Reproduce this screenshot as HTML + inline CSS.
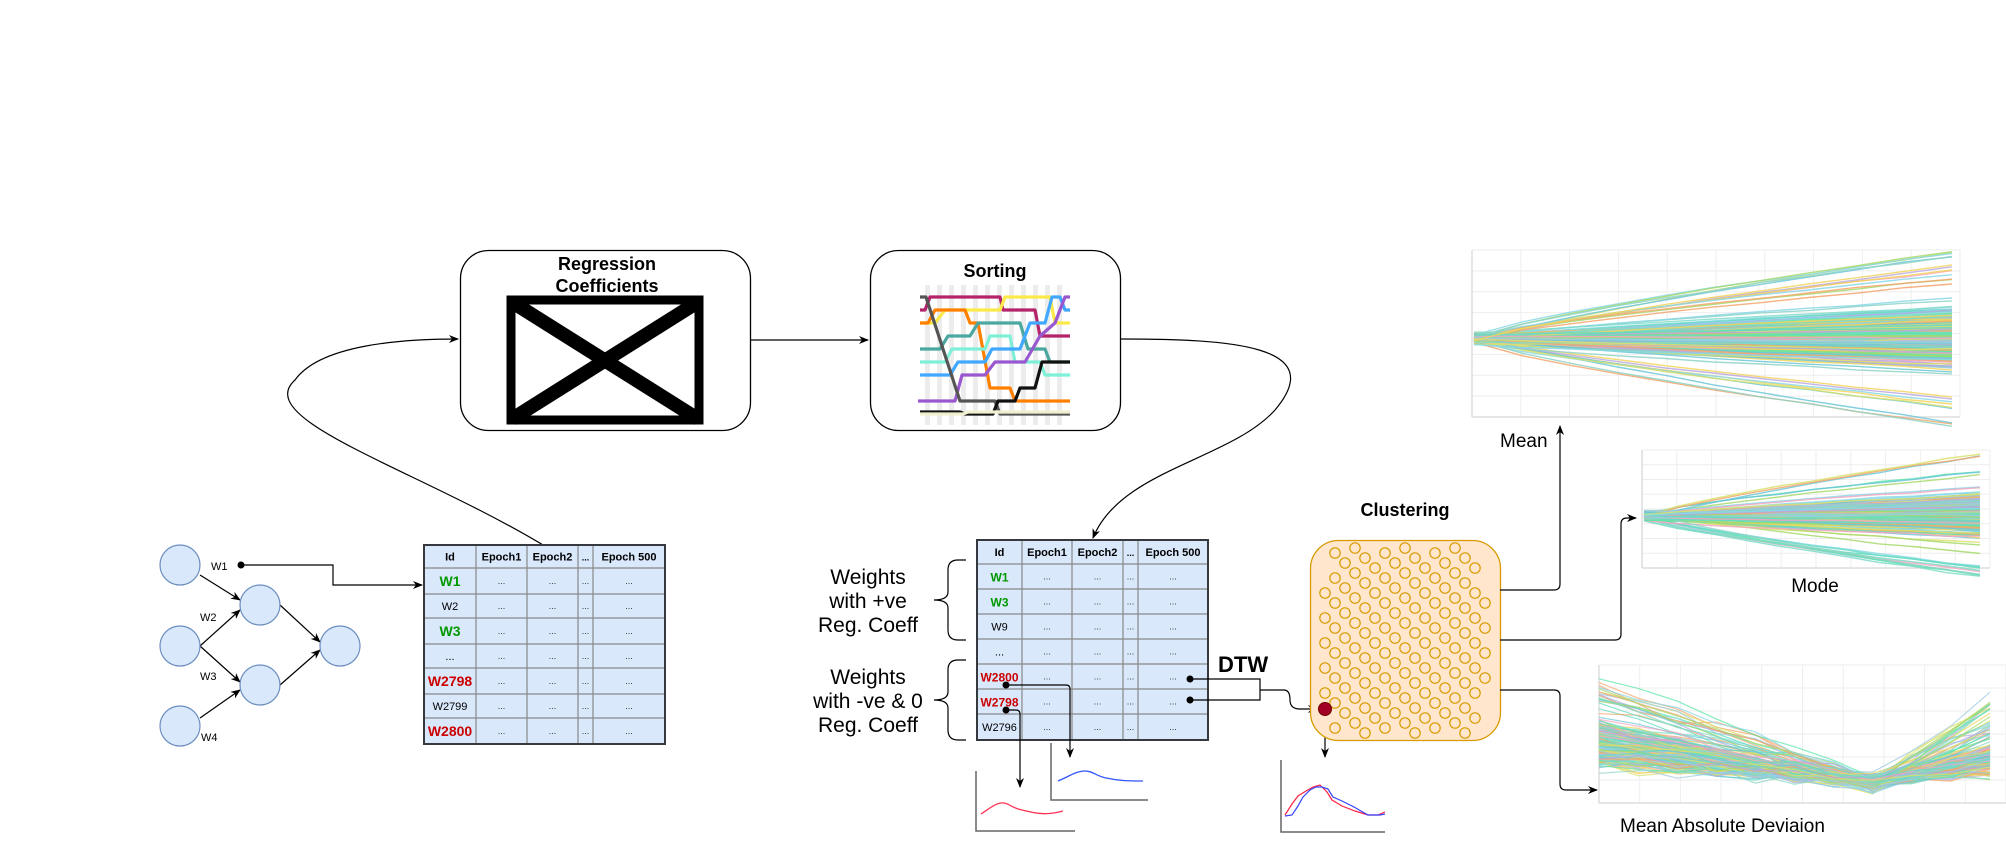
<!DOCTYPE html>
<html><head><meta charset="utf-8"><style>
html,body{margin:0;padding:0;background:#fff;}
svg{display:block;font-family:"Liberation Sans",Arial,sans-serif;}
</style></head><body>
<svg id="s" width="2006" height="841" viewBox="0 0 2006 841" xmlns="http://www.w3.org/2000/svg">
<defs>
<marker id="ar" markerWidth="10" markerHeight="10" refX="9" refY="5" orient="auto" markerUnits="userSpaceOnUse"><path d="M0,1 L10,5 L0,9 L3,5 Z" fill="#000"/></marker>
</defs>
<rect width="2006" height="841" fill="#fff"/>

<!-- Regression box -->
<rect x="460.5" y="250.5" width="290" height="180" rx="28" fill="#fff" stroke="#000" stroke-width="1.3"/>
<text x="607" y="270" font-size="18" font-weight="bold" text-anchor="middle">Regression</text>
<text x="607" y="292" font-size="18" font-weight="bold" text-anchor="middle">Coefficients</text>
<rect x="511" y="300" width="188" height="120" fill="none" stroke="#000" stroke-width="9"/>
<line x1="512" y1="302" x2="698" y2="419" stroke="#000" stroke-width="14"/>
<line x1="698" y1="302" x2="512" y2="419" stroke="#000" stroke-width="14"/>

<!-- Sorting box -->
<rect x="870.5" y="250.5" width="250" height="180" rx="28" fill="#fff" stroke="#000" stroke-width="1.3"/>
<text x="995" y="277" font-size="18" font-weight="bold" text-anchor="middle">Sorting</text>
<g id="sortg"></g>

<!-- connectors top -->
<line x1="751" y1="340" x2="868" y2="340" stroke="#000" stroke-width="1.2" marker-end="url(#ar)"/>
<path d="M548,548 C420,470 250,420 295,380 C320,345 400,339 458,339" fill="none" stroke="#000" stroke-width="1.2" marker-end="url(#ar)"/>
<path d="M1121,339 C1230,339 1330,345 1275,410 C1230,460 1120,470 1093,538" fill="none" stroke="#000" stroke-width="1.2" marker-end="url(#ar)"/>

<!-- Network -->
<g stroke="#000" stroke-width="1.2">
<line x1="200" y1="575" x2="240" y2="600" marker-end="url(#ar)"/>
<line x1="200" y1="646" x2="240" y2="610" marker-end="url(#ar)"/>
<line x1="200" y1="646" x2="240" y2="682" marker-end="url(#ar)"/>
<line x1="200" y1="718" x2="240" y2="690" marker-end="url(#ar)"/>
<line x1="280" y1="605" x2="320" y2="642" marker-end="url(#ar)"/>
<line x1="280" y1="685" x2="320" y2="650" marker-end="url(#ar)"/>
</g>
<g fill="#dae8fc" stroke="#6c8ebf" stroke-width="1.2">
<circle cx="180" cy="565" r="20"/><circle cx="180" cy="646" r="20"/><circle cx="180" cy="726" r="20"/>
<circle cx="260" cy="605" r="20"/><circle cx="260" cy="685" r="20"/><circle cx="340" cy="646" r="20"/>
</g>
<g font-size="11">
<text x="211" y="570">W1</text><text x="200" y="621">W2</text><text x="200" y="680">W3</text><text x="201" y="741">W4</text>
</g>
<circle cx="241" cy="565" r="3.5" fill="#000"/>
<path d="M241,565 H333 V585 H422" fill="none" stroke="#000" stroke-width="1.2" marker-end="url(#ar)"/>

<g id="t1"></g>
<g id="t2"></g>

<!-- braces & labels -->
<path d="M966,560 H958 Q948,560 948,570 V592 Q948,600 934,600 Q948,600 948,608 V630 Q948,640 958,640 H966" fill="none" stroke="#000" stroke-width="1.2"/>
<path d="M966,660 H958 Q948,660 948,670 V692 Q948,700 934,700 Q948,700 948,708 V730 Q948,740 958,740 H966" fill="none" stroke="#000" stroke-width="1.2"/>
<g font-size="21" text-anchor="middle">
<text x="868" y="584">Weights</text><text x="868" y="608">with +ve</text><text x="868" y="632">Reg. Coeff</text>
<text x="868" y="684">Weights</text><text x="868" y="708">with -ve &amp; 0</text><text x="868" y="732">Reg. Coeff</text>
</g>
<text x="1218" y="672" font-size="22" font-weight="bold">DTW</text>

<!-- table2 connectors -->
<g stroke="#000" stroke-width="1.2" fill="none">
<path d="M1006,685 H1066 Q1070,685 1070,689 V757" marker-end="url(#ar)"/>
<path d="M1006,710 H1016 Q1020,710 1020,714 V787" marker-end="url(#ar)"/>
<path d="M1190,679 H1260 V700 H1190"/>
<path d="M1260,690 H1284 Q1290,690 1290,700 Q1290,709 1300,709 H1317" marker-end="url(#ar)"/>
<path d="M1325,709 V757" marker-end="url(#ar)"/>
</g>
<circle cx="1006" cy="685" r="3.5"/><circle cx="1006" cy="710" r="3.5"/>
<circle cx="1190" cy="679" r="3.5"/><circle cx="1190" cy="700" r="3.5"/>

<!-- small charts -->
<path d="M976,771 V831 H1075" fill="none" stroke="#666" stroke-width="1.5"/>
<path d="M981,814 C990,808 997,802 1004,803 C1010,804 1012,808 1022,810 C1035,813 1045,816 1063,811" fill="none" stroke="#ff3355" stroke-width="1.3"/>
<path d="M1051,743 V800 H1148" fill="none" stroke="#666" stroke-width="1.5"/>
<path d="M1058,781 C1068,777 1076,771 1085,771 C1093,771 1096,776 1106,778 C1120,781 1130,781 1143,781" fill="none" stroke="#3355ff" stroke-width="1.3"/>
<path d="M1281,760 V832 H1385" fill="none" stroke="#666" stroke-width="1.5"/>
<g fill="none" stroke-width="1.2">
<path d="M1285,815 L1292,804 L1298,796 L1306,791 L1313,787 L1320,785 L1327,792 L1332,800 L1342,806 L1355,811 L1368,815 L1378,815 L1385,812" stroke="#ff2244"/>
<path d="M1285,816 L1292,815 L1298,806 L1303,797 L1310,790 L1316,787 L1322,787 L1328,789 L1333,797 L1342,801 L1354,807 L1368,815 L1380,815 L1385,814" stroke="#3344ff"/>
</g>

<!-- clustering -->
<text x="1405" y="516" font-size="18" font-weight="bold" text-anchor="middle">Clustering</text>
<rect x="1310.5" y="540.5" width="190" height="200" rx="28" fill="#ffe6cc" stroke="#d79b00" stroke-width="1.3"/>
<g id="cl" fill="none" stroke="#d79b00" stroke-width="1.2"></g>
<circle cx="1325" cy="709" r="6.5" fill="#a20025" stroke="#6f0000"/>

<!-- outputs -->
<g stroke="#000" stroke-width="1.2" fill="none">
<path d="M1500,590 H1554 Q1560,590 1560,584 V426" marker-end="url(#ar)"/>
<path d="M1500,640 H1615 Q1621,640 1621,634 V524 Q1621,518 1627,518 H1636" marker-end="url(#ar)"/>
<path d="M1500,690 H1554 Q1560,690 1560,696 V784 Q1560,790 1566,790 H1597" marker-end="url(#ar)"/>
</g>
<g id="ch1"></g><g id="ch2"></g><g id="ch3"></g>
<text x="1500" y="447" font-size="19">Mean</text>
<text x="1815" y="592" font-size="19" text-anchor="middle">Mode</text>
<text x="1620" y="832" font-size="19">Mean Absolute Deviaion</text>
</svg>
<script>
var NS="http://www.w3.org/2000/svg";
function el(p,t,a,txt){var e=document.createElementNS(NS,t);for(var k in a)e.setAttribute(k,a[k]);if(txt!==undefined)e.textContent=txt;p.appendChild(e);return e;}
var seed=7;function rnd(){seed=(seed*16807)%2147483647;return seed/2147483647;}
function gauss(){return (rnd()+rnd()+rnd()+rnd()-2)/2;}
function table(g,x,y,cols,rowsY,ids,idsz){
  var G=document.getElementById(g);
  var W=cols[cols.length-1]-x, H=rowsY[rowsY.length-1]-y;
  el(G,'rect',{x:x,y:y,width:W,height:H,fill:'#dae8fc',stroke:'none'});
  for(var i=1;i<cols.length-1;i++)el(G,'line',{x1:cols[i],y1:y,x2:cols[i],y2:y+H,stroke:'#888','stroke-width':1.2});
  for(var j=1;j<rowsY.length-1;j++)el(G,'line',{x1:x,y1:rowsY[j],x2:x+W,y2:rowsY[j],stroke:'#888','stroke-width':1.2});
  el(G,'rect',{x:x,y:y,width:W,height:H,fill:'none',stroke:'#36393d','stroke-width':2});
  var hd=['Id','Epoch1','Epoch2','...','Epoch 500'];
  for(var c=0;c<5;c++){var cx=(cols[c]+cols[c+1])/2;
    el(G,'text',{x:cx,y:(rowsY[0]+rowsY[1])/2+4,'font-size':c==3?9:11,'font-weight':'bold','text-anchor':'middle'},hd[c]);}
  for(var r=0;r<ids.length;r++){var cy=(rowsY[r+1]+rowsY[r+2])/2;
    var id=ids[r];var a={x:(cols[0]+cols[1])/2,y:cy+4,'text-anchor':'middle','font-size':id[1]?idsz:11};
    if(id[1]){a['font-weight']='bold';a.fill=id[1];a.y=cy+5;}
    el(G,'text',a,id[0]);
    for(var c=1;c<5;c++)el(G,'text',{x:(cols[c]+cols[c+1])/2,y:cy+3,'font-size':9,'text-anchor':'middle',fill:'#333'},'...');
  }
}
var GR='#009900',RD='#cc0000';
table('t1',424,545,[424,476,527,578,593,665],[545,568,594,618,644,668,694,718,744],
 [['W1',GR],['W2'],['W3',GR],['...'],['W2798',RD],['W2799'],['W2800',RD]],14);
table('t2',977,540,[977,1022,1072,1123,1138,1208],[540,564,589,614,639,664,689,714,740],
 [['W1',GR],['W3',GR],['W9'],['...'],['W2800',RD],['W2798',RD],['W2796']],12);
var cl=document.getElementById('cl');
for(var c=-240;c<400;c+=25){for(var x=1325;x<=1490;x+=10){
  var y=x-1325+c+583; if(y<548||y>733)continue;
  if((x<1333&&y>700))continue;
  if(x>1480&&(y<580||y>700))continue;
  if(x<1335&&y<575)continue;
  el(cl,'circle',{cx:x,cy:y,r:5.2});}}
var sg=document.getElementById('sortg');
for(var x=925;x<1068;x+=12)el(sg,'rect',{x:x,y:285,width:5,height:140,fill:'#ececec'});
function T(i){return 297+13*i;}
var paths=[
 ['#b5236b',[[920,1],[925,1],[930,0],[1000,0],[1003,1],[1035,1],[1040,3],[1070,3]]],
 ['#fbe94a',[[920,2],[935,2],[945,1],[975,1],[980,1],[1000,1],[1005,0],[1050,0],[1055,2],[1070,2]]],
 ['#ff8000',[[920,2],[928,2],[935,1],[965,1],[970,2],[978,2],[990,7],[1010,7],[1015,8],[1070,8]]],
 ['#4aa8a0',[[920,4],[940,4],[948,3],[970,3],[978,2],[1020,2],[1028,4],[1045,4],[1050,5],[1070,5]]],
 ['#7ff0d8',[[920,5],[945,5],[952,4],[985,4],[990,3],[1010,3],[1015,5],[1040,5],[1045,6],[1070,6]]],
 ['#40a8ff',[[920,6],[950,6],[958,5],[985,5],[992,4],[1020,4],[1030,2],[1045,2],[1052,0],[1060,0],[1065,1],[1070,1]]],
 ['#9a58d0',[[918,8],[955,8],[962,6],[985,6],[995,5],[1025,5],[1040,3],[1055,2],[1065,0],[1070,0]]],
 ['#555',[[920,0],[926,0],[960,8],[995,8],[1000,9],[1070,9]]],
 ['#111',[[920,10],[960,10],[965,9],[993,9],[998,8],[1015,8],[1020,7],[1035,7],[1042,5],[1070,5]]],
 ['#f0f0d0',[[920,9],[963,9],[968,10],[1070,10]]]
];
paths.forEach(function(p){var d='';p[1].forEach(function(q,i){d+=(i?'L':'M')+q[0]+','+(q[1]>9?412:T(q[1]));});
 el(sg,'path',{d:d,fill:'none',stroke:p[0],'stroke-width':3.2,'stroke-linejoin':'round'});});
var pal=['#f2d45c','#f4a46c','#a6d96a','#5ee6a8','#8dd3c7','#6cc7d8','#7fdcc8','#f4a6c1','#b8a8e0','#9ecae1','#d9e06a','#64dcc0','#88d8e8'];
function grid(G,x0,y0,x1,y1,nx,ny){
  for(var i=0;i<=nx;i++){var x=x0+(x1-x0)*i/nx;el(G,'line',{x1:x,y1:y0,x2:x,y2:y1,stroke:'#eee'});}
  for(var j=0;j<=ny;j++){var y=y0+(y1-y0)*j/ny;el(G,'line',{x1:x0,y1:y,x2:x1,y2:y,stroke:'#eee'});}
  el(G,'line',{x1:x0,y1:y0,x2:x0,y2:y1,stroke:'#ddd','stroke-width':1.5});
  el(G,'line',{x1:x0,y1:y1,x2:x1,y2:y1,stroke:'#ddd','stroke-width':1.5});
}
function fan(id,x0,y0,x1,y1,xe,cy,sp0,spc,out,n){
  var G=document.getElementById(id);grid(G,x0,y0,x1,y1,10,8);
  for(var k=0;k<n;k++){var sL=gauss()*sp0,e=gauss()*spc;if(rnd()<0.07)e=(rnd()<0.5?-1:1)*out*(0.6+rnd()*0.4);
    var d='',steps=10;for(var i=0;i<=steps;i++){var t=i/steps;var x=x0+2+(xe-x0-2)*t;
      var y=cy+sL*(1-t)+e*Math.pow(t,0.8)+gauss()*2*t;d+=(i?'L':'M')+x.toFixed(1)+','+y.toFixed(1);}
    el(G,'path',{d:d,fill:'none',stroke:pal[k%pal.length],'stroke-width':1.4,opacity:0.85});}
}
fan('ch1',1472,250,1960,417,1952,339,8,50,88,300);
fan('ch2',1642,450,1990,568,1980,516,7,36,62,260);
(function(){var G=document.getElementById('ch3');var x0=1599,y0=665,x1=2006,y1=803;grid(G,x0,y0,x1,y1,10,6);
 var xe=1990;for(var k=0;k<220;k++){var a=745+gauss()*40;if(rnd()<0.1)a=675+rnd()*40;var d='';var b=782+gauss()*8;var r=rnd()<0.15?700+rnd()*60:760+gauss()*25;
  for(var i=0;i<=10;i++){var t=i/10,x=x0+(xe-x0)*t,y;
   if(t<0.7){y=a+(b-a)*(t/0.7);}else{y=b+(r-b)*((t-0.7)/0.3);}
   y+=gauss()*12;if(y>800)y=800;d+=(i?'L':'M')+x.toFixed(1)+','+y.toFixed(1);}
  el(G,'path',{d:d,fill:'none',stroke:pal[k%pal.length],'stroke-width':1.2,opacity:0.75});}
})();
</script>
</body></html>
